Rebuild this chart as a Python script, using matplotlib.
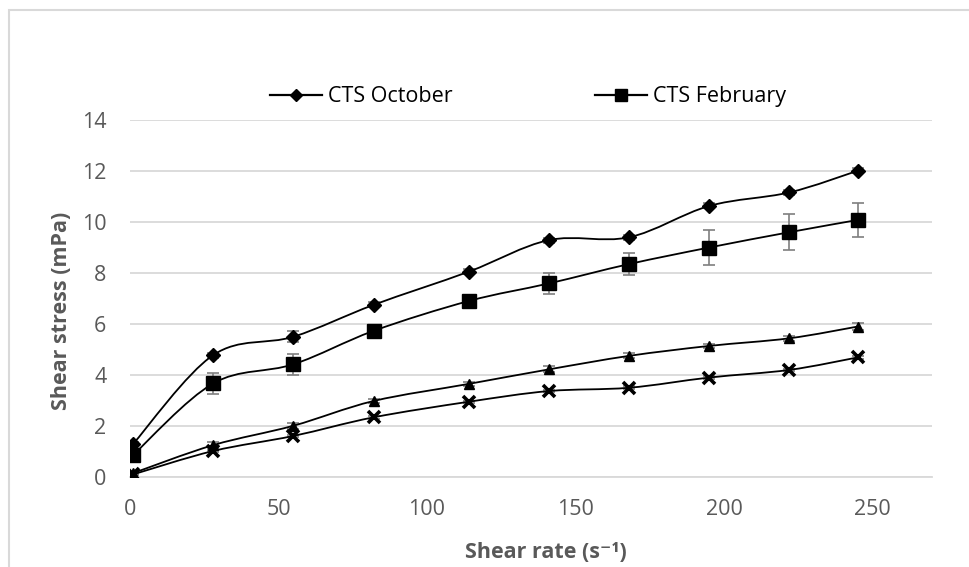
import matplotlib
matplotlib.use("Agg")
import matplotlib.pyplot as plt
from matplotlib.path import Path
from matplotlib.patches import PathPatch, Rectangle
from matplotlib.lines import Line2D
import numpy as np

# shear rate (1/s)
shear_rate = [1, 28, 55, 82, 114, 141, 168, 195, 222, 245]

# shear stress (mPa) and std errors
cts_october = [1.29, 4.78, 5.50, 6.75, 8.05, 9.29, 9.40, 10.63, 11.16, 12.01]
err_october = [0.08, 0.10, 0.22, 0.10, 0.10, 0.10, 0.10, 0.10, 0.10, 0.10]
cts_february = [0.86, 3.67, 4.42, 5.73, 6.90, 7.59, 8.35, 9.00, 9.60, 10.08]
err_february = [0.10, 0.42, 0.41, 0.15, 0.15, 0.41, 0.42, 0.67, 0.70, 0.65]
series_tri = [0.15, 1.25, 2.01, 2.98, 3.65, 4.22, 4.75, 5.14, 5.44, 5.90]
err_tri = [0.05, 0.12, 0.12, 0.08, 0.08, 0.12, 0.10, 0.08, 0.10, 0.12]
series_x = [0.10, 1.02, 1.61, 2.34, 2.95, 3.37, 3.50, 3.90, 4.20, 4.69]
err_x = [0.03, 0.05, 0.05, 0.05, 0.05, 0.05, 0.05, 0.05, 0.05, 0.05]

legend_labels = ["CTS October", "CTS February"]
x_ticks = [0, 50, 100, 150, 200, 250]
y_ticks = [0, 2, 4, 6, 8, 10, 12, 14]

FONT = ["Open Sans", "DejaVu Sans"]
GREY = "#595959"
plt.rcParams["font.family"] = FONT


def smooth_path(xs, ys):
    # excel style smoothed line: bezier segments, catmull-rom control points
    pts = np.column_stack([xs, ys]).astype(float)
    n = len(pts)
    verts = [pts[0]]
    codes = [Path.MOVETO]
    for i in range(n - 1):
        p0 = pts[i - 1] if i > 0 else pts[i]
        p1 = pts[i]
        p2 = pts[i + 1]
        p3 = pts[i + 2] if i + 2 < n else pts[i + 1]
        c1 = p1 + (p2 - p0) / 6.0
        c2 = p2 - (p3 - p1) / 6.0
        verts += [c1, c2, p2]
        codes += [Path.CURVE4] * 3
    return Path(verts, codes)


fig = plt.figure(figsize=(9.69, 5.67), dpi=100)
ax = fig.add_axes([130 / 969, 1 - 477 / 567, (932 - 130) / 969, (477 - 120) / 567])

# outer chart border
fig.patches.append(Rectangle((8.5 / 969, -0.1), 1.2, (567 - 9.5) / 567 + 0.1,
                             transform=fig.transFigure, fill=False,
                             edgecolor="#d9d9d9", linewidth=1.5))

series = [
    (cts_october, err_october, "D", 7.5, 1.0),
    (cts_february, err_february, "s", 10.0, 1.0),
    (series_tri, err_tri, "^", 6.5, 1.0),
    (series_x, err_x, "x", 8.0, 2.6),
]
for ys, err, mk, ms, mew in series:
    ax.errorbar(shear_rate, ys, yerr=err, fmt="none", ecolor="#7f7f7f",
                elinewidth=1.2, capsize=4.5, capthick=1.2, zorder=2)
    ax.add_patch(PathPatch(smooth_path(shear_rate, ys), fill=False,
                           edgecolor="black", linewidth=1.3, zorder=3))
    ax.plot(shear_rate, ys, linestyle="none", marker=mk, markersize=ms,
            color="black", markeredgewidth=mew, zorder=4)

ax.set_xlim(0, 270)
ax.set_ylim(0, 14)
ax.set_xticks(x_ticks)
ax.set_yticks(y_ticks)
ax.tick_params(axis="both", length=0, labelsize=15.5, labelcolor=GREY)
ax.tick_params(axis="x", pad=16)
ax.tick_params(axis="y", pad=17)
ax.grid(axis="y", color="#d9d9d9", linewidth=1.3)
ax.set_axisbelow(True)
for s in ["top", "right", "left"]:
    ax.spines[s].set_visible(False)
ax.spines["bottom"].set_color("#d9d9d9")
ax.spines["bottom"].set_linewidth(1.3)

fig.text(546 / 969, 1 - 552 / 567, "Shear rate (s\u207b\u00b9)", ha="center",
         va="center", fontsize=15.5, fontweight="bold", color=GREY, family=FONT)
fig.text(62 / 969, 1 - 311 / 567, "Shear stress (mPa)", ha="center",
         va="center", rotation=90, fontsize=15.5, fontweight="bold",
         color=GREY, family=FONT)

handles = [
    Line2D([], [], color="black", linewidth=1.6, marker="D", markersize=6.5),
    Line2D([], [], color="black", linewidth=1.6, marker="s", markersize=8.5),
]
fig.legend(handles, legend_labels, loc="center", bbox_to_anchor=(528 / 969, 1 - 97 / 567),
           ncol=2, frameon=False, fontsize=15.5, handlelength=2.4,
           handletextpad=0.3, columnspacing=6.6)

fig.savefig("out.png", dpi=100)
